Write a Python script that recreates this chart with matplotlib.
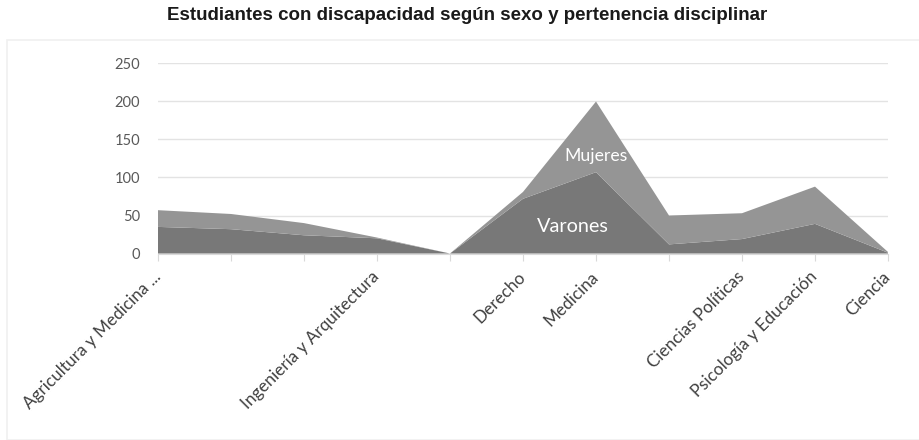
import numpy as np
import matplotlib
matplotlib.use("Agg")
from matplotlib import pyplot as plt
from matplotlib.patches import Rectangle
import matplotlib.transforms as mtransforms

categorias = ["Agricultura y Medicina ...", "", "", "Ingeniería y Arquitectura", "",
              "Derecho", "Medicina", "", "Ciencias Políticas",
              "Psicología y Educación", "Ciencia"]
varones = [35, 32, 24, 20, 0, 72, 107, 12, 19, 39, 1]
mujeres = [22, 20, 16, 1, 0, 9, 93, 38, 34, 49, 1]

x = np.arange(len(categorias))

fig = plt.figure(figsize=(9.19, 4.4), dpi=100)
ax = fig.add_axes([158/919, 1-253.5/440, 730/919, 190/440])

ax.stackplot(x, varones, mujeres, colors=["#787878", "#959595"], linewidth=0, zorder=3)

ax.set_xlim(0, 10)
ax.set_ylim(0, 250)
ax.set_yticks([0, 50, 100, 150, 200, 250])
ax.yaxis.grid(True, color="#e3e3e3", linewidth=1, zorder=0)
ax.set_xticks(x)
ax.set_xticklabels(categorias, rotation=45, ha="right", va="center",
                   rotation_mode="anchor", fontsize=12.3, color="#404040", family="Lato")
shift = mtransforms.ScaledTranslation(7/100, 0, fig.dpi_scale_trans)
for lab in ax.get_xticklabels():
    lab.set_transform(lab.get_transform() + shift)
for lab in ax.get_yticklabels():
    lab.set_fontsize(10.5)
    lab.set_color("#595959")
    lab.set_family("Lato")
ax.tick_params(axis="y", length=0, pad=13)
ax.tick_params(axis="x", length=5, color="#d9d9d9", pad=10)
for s in ["top", "right", "left"]:
    ax.spines[s].set_visible(False)
ax.spines["bottom"].set_color("#d9d9d9")
ax.set_axisbelow(True)

ax.text(6, 128, "Mujeres", color="white", fontsize=12.7, ha="center", va="center",
        family="Lato", zorder=5)
ax.text(5.68, 35, "Varones", color="white", fontsize=14.3, ha="center", va="center",
        family="Lato", zorder=5)

fig.text(467/919, 1-16/440, "Estudiantes con discapacidad según sexo y pertenencia disciplinar",
         ha="center", va="center", fontsize=13.5, fontweight="bold", color="#1a1a1a",
         family="Liberation Sans")

fig.patches.append(Rectangle((7/919, 0), 1, 1-40/440, transform=fig.transFigure,
                             fill=False, edgecolor="#f0f0f0", linewidth=1.2))

fig.savefig("out.png", dpi=100)
